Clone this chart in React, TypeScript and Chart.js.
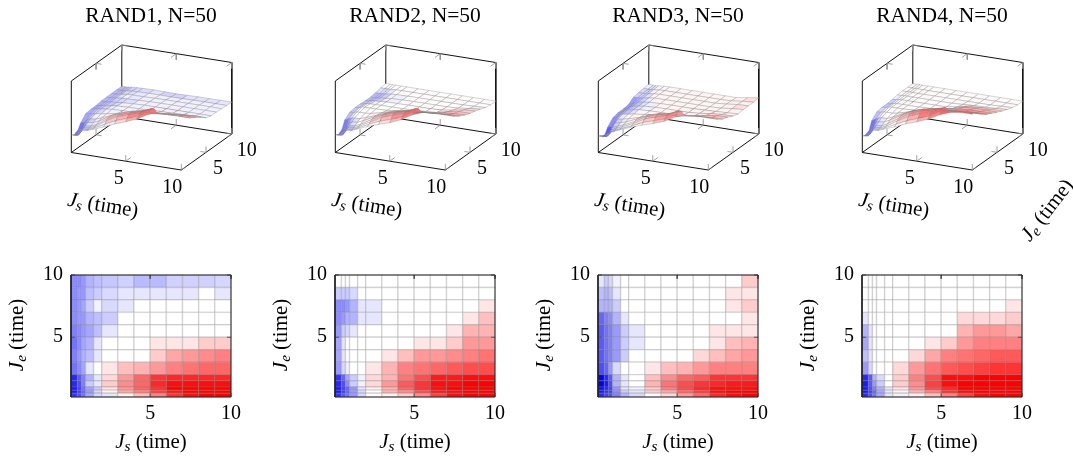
import React, { useEffect, useRef } from "react";
import { Chart, registerables } from "chart.js";

Chart.register(...registerables);

const jsLevels = [0.1, 0.5, 0.75, 1, 1.5, 2, 3, 4, 5, 6, 7, 8, 9, 10];
const jeLevels = [0.2, 0.5, 0.75, 1, 1.5, 2, 3, 4, 5, 6, 7, 8, 9, 10];
const tickValues = [5, 10];
const titles = ["RAND1, N=50", "RAND2, N=50", "RAND3, N=50", "RAND4, N=50"];

// rows run from Je 9-10 (top) to Je 0.2-0.5 (bottom); columns follow jsLevels
// values above 1 saturate the colour but still raise the 3D surface
const rand1 = [
  [-.45, -.45, -.4, -.3, -.25, -.22, -.18, -.27, -.27, -.18, -.18, -.18, -.16],
  [-.45, -.4, -.4, -.25, -.2, -.15, -.1, -.1, -.1, -.1, -.1, 0, -.1],
  [-.45, -.4, -.35, -.2, -.05, -.15, -.1, 0, 0, 0, 0, 0, 0],
  [-.45, -.4, -.4, -.3, -.25, -.2, 0, 0, 0, 0, 0, 0, 0],
  [-.5, -.45, -.4, -.35, -.25, -.1, 0, 0, 0, 0, 0, 0, 0],
  [-.55, -.45, -.35, -.3, -.1, 0, 0, 0, .1, .1, .1, .2, .2],
  [-.5, -.4, -.3, -.25, -.1, 0, 0, 0, .2, .35, .4, .45, .5],
  [-.55, -.45, -.35, -.1, 0, .1, .25, .3, .4, .5, .55, .6, .6],
  [-.85, -.65, -.5, -.3, -.1, .15, .4, .6, .8, .85, .85, .85, .85],
  [-.85, -.7, -.5, -.2, -.1, .2, .45, .6, .85, .95, .95, .95, .95],
  [-.9, -.75, -.55, -.35, -.2, .1, .4, .6, .8, 1, 1.15, 1.35, 1.5],
  [-.9, -.75, -.6, -.4, -.15, .05, .35, .5, .75, .9, 1.15, 1.35, 1.5],
  [-.8, -.7, -.55, -.35, -.15, -.1, .05, .25, .5, .8, .95, 1.3, 1.5],
];
const rand2 = [
  [0, 0, 0, 0, 0, 0, 0, 0, 0, 0, 0, 0, 0],
  [-.2, -.2, -.2, -.15, 0, 0, 0, 0, 0, 0, 0, 0, 0],
  [-.45, -.45, -.4, -.3, -.1, -.1, 0, 0, 0, 0, 0, 0, .1],
  [-.45, -.4, -.3, -.3, -.1, -.1, 0, 0, 0, 0, 0, .1, .25],
  [-.4, -.2, -.15, -.1, 0, 0, 0, 0, 0, 0, .1, .3, .3],
  [-.35, -.1, 0, 0, 0, 0, 0, 0, .1, .1, .2, .4, .4],
  [-.35, -.1, 0, 0, 0, 0, .1, .25, .4, .4, .45, .5, .55],
  [-.4, -.15, -.05, 0, 0, .1, .3, .5, .55, .6, .65, .7, .7],
  [-.8, -.6, -.35, -.2, -.05, .15, .3, .55, .7, .9, .9, .95, .95],
  [-.85, -.7, -.45, -.2, -.05, .15, .4, .65, .8, .95, .95, 1.1, 1.2],
  [-.9, -.75, -.6, -.4, -.1, .05, .3, .6, .8, .95, 1.15, 1.35, 1.5],
  [-.9, -.75, -.6, -.4, -.15, 0, .3, .45, .7, .9, .95, 1.35, 1.5],
  [-.8, -.65, -.55, -.4, -.15, 0, .05, .2, .45, .75, .95, 1.3, 1.5],
];
const rand3 = [
  [-.1, -.2, -.15, -.05, 0, 0, 0, 0, 0, 0, 0, 0, .2],
  [-.25, -.3, -.25, -.1, 0, 0, 0, 0, 0, 0, 0, .1, .1],
  [-.3, -.3, -.3, -.2, 0, 0, 0, 0, 0, 0, 0, .1, .2],
  [-.6, -.5, -.45, -.3, -.1, 0, 0, 0, 0, 0, 0, 0, .1],
  [-.65, -.55, -.5, -.4, -.2, -.1, 0, 0, 0, 0, .1, .1, .1],
  [-.65, -.55, -.5, -.4, -.2, -.1, 0, 0, 0, 0, .1, .25, .3],
  [-.65, -.55, -.5, -.4, -.2, 0, 0, 0, 0, .15, .25, .35, .4],
  [-.7, -.6, -.4, -.15, 0, 0, .1, .25, .3, .4, .5, .5, .5],
  [-1, -.85, -.65, -.3, -.1, 0, .25, .45, .6, .65, .8, .8, .8],
  [-1, -.9, -.7, -.3, -.1, 0, .3, .55, .7, .8, .85, .9, .9],
  [-.95, -.85, -.75, -.4, -.1, -.05, .2, .5, .7, .85, .95, .95, .95],
  [-.9, -.8, -.75, -.45, -.2, -.1, .2, .35, .6, .75, .95, 1.1, 1.2],
  [-.85, -.75, -.7, -.5, -.3, -.15, 0, .15, .4, .6, .85, .95, 1.2],
];
const rand4 = [
  [0, 0, 0, 0, 0, 0, 0, 0, 0, 0, 0, 0, 0],
  [0, 0, 0, 0, 0, 0, 0, 0, 0, 0, 0, 0, 0],
  [0, 0, 0, 0, 0, 0, 0, 0, 0, 0, 0, 0, .1],
  [-.1, 0, 0, 0, 0, 0, 0, 0, 0, .15, .15, .15, .2],
  [-.3, -.1, 0, 0, 0, 0, 0, 0, 0, .3, .4, .4, .35],
  [-.35, -.1, 0, 0, 0, 0, 0, .1, .2, .4, .5, .5, .5],
  [-.25, -.1, 0, 0, 0, 0, .15, .35, .5, .55, .6, .65, .65],
  [-.4, -.15, 0, 0, 0, .15, .4, .55, .65, .7, .75, .8, .8],
  [-.85, -.65, -.3, -.15, 0, .2, .5, .7, .95, .95, 1.05, 1.05, 1.1],
  [-.9, -.65, -.4, -.2, 0, .2, .45, .75, .95, 1, 1.1, 1.2, 1.3],
  [-.9, -.7, -.5, -.3, -.1, .1, .4, .7, .85, 1, 1.15, 1.35, 1.5],
  [-.9, -.75, -.6, -.35, -.1, .05, .3, .5, .8, .95, 1.15, 1.35, 1.5],
  [-.85, -.7, -.55, -.35, -.1, -.05, .05, .25, .5, .75, .95, 1.3, 1.5],
];
const matrices = [rand1, rand2, rand3, rand4];
// faint residual shade of the near-zero cells, visible only on the 3D surfaces
const surfaceTint = [-.09, .02, .07, .03];
// extra rise of the front-right fold of the surface, by Je row and by Js column
const foldRows = [.08, .1, .12, .12, .08];
const foldCols = [.4, .7, 1, 1];
// dip of the front-left corner of the surface, by Je row and by Js column
const dipRows = [.1, .1, .09, .08, .06, .04, .02];
const dipCols = [.5, .7, .8, .9, 1, .8, .3];

const FONT = '"Liberation Serif"';
const columnLeft = [1, 265, 528, 792];

function color(v: number, mixWhite = 0) {
  const p = 1 - Math.min(1, Math.abs(v));
  const c = Math.round(255 * (p + (1 - p) * mixWhite));
  return v >= 0 ? `rgb(255,${c},${c})` : `rgb(${c},${c},255)`;
}

// share of the z axis used by a value
function height(v: number) {
  if (v >= 0) return 0.46 + 0.24 * v;
  if (v > -0.5) return 0.46 + 0.08 * v;
  return 0.42 + 0.4 * (v + 0.5);
}

type Part = { t: string; style?: string; scale?: number; dy?: number };
type Label = { x: number; y: number; rot?: number; parts: Part[] };

const textPlugin = (labels: Label[], size: number) => ({
  id: "mathText",
  afterDraw(chart: any) {
    const ctx = chart.ctx;
    for (const l of labels) {
      ctx.save();
      ctx.translate(l.x, l.y);
      ctx.rotate(((l.rot || 0) * Math.PI) / 180);
      ctx.fillStyle = "#000";
      ctx.textBaseline = "alphabetic";
      let w = 0;
      const font = (p: Part) => `${p.style || ""} ${size * (p.scale || 1)}px ${FONT}`;
      for (const p of l.parts) {
        ctx.font = font(p);
        w += ctx.measureText(p.t).width;
      }
      let x = -w / 2;
      for (const p of l.parts) {
        ctx.font = font(p);
        ctx.fillText(p.t, x, size * 0.32 + (p.dy || 0));
        x += ctx.measureText(p.t).width;
      }
      ctx.restore();
    }
  },
});

const mathLabel = (sub: string): Part[] => [
  { t: "J", style: "italic", scale: 1.1 },
  { t: sub, style: "italic", scale: 0.8, dy: 3 },
  { t: " (time)", scale: 1.1 },
];

function poly(points: { x: number; y: number }[], fill: string | null, stroke: string, width: number) {
  return {
    data: points,
    showLine: true,
    pointRadius: 0,
    borderColor: stroke,
    borderWidth: width,
    backgroundColor: fill || "transparent",
    fill: fill ? "shape" : false,
    tension: 0,
    clip: false,
    borderJoinStyle: "miter",
  };
}

function Heat({ index }: { index: number }) {
  const ref = useRef<HTMLCanvasElement>(null);
  useEffect(() => {
    const m = matrices[index];
    const ds: any[] = [];
    const xMin = jsLevels[0];
    const yMin = jeLevels[0];
    const add = (d: any) => ds.push(d);
    m.forEach((row, r) => {
      const j = 12 - r;
      row.forEach((v, i) => {
        const x0 = jsLevels[i], x1 = jsLevels[i + 1], y0 = jeLevels[j], y1 = jeLevels[j + 1];
        add(poly([{ x: x0, y: y0 }, { x: x1, y: y0 }, { x: x1, y: y1 }, { x: x0, y: y1 }, { x: x0, y: y0 }],
          color(v), "rgba(120,120,120,0.24)", 1.4));
      });
    });
    for (const t of tickValues) {
      add(poly([{ x: t, y: yMin }, { x: t, y: yMin + 0.3 }], null, "#555", 1));
      add(poly([{ x: t, y: 10 }, { x: t, y: 9.7 }], null, "#555", 1));
      add(poly([{ x: xMin, y: t }, { x: xMin + 0.25, y: t }], null, "#555", 1));
      add(poly([{ x: 10, y: t }, { x: 9.75, y: t }], null, "#555", 1));
    }
    add(poly([{ x: xMin, y: yMin }, { x: 10, y: yMin }, { x: 10, y: 10 }, { x: xMin, y: 10 }, { x: xMin, y: yMin }], null, "#222", 1));
    ds.reverse();
    const ticks = (s: any) => { s.ticks = tickValues.map((value) => ({ value })); };
    const tickFont = { family: FONT, size: 20 };
    const chart = new Chart(ref.current!, {
      type: "scatter",
      data: { datasets: ds },
      options: {
        responsive: false,
        animation: false,
        events: [],
        layout: { padding: { left: 0, right: 14, top: 12, bottom: 0 } },
        plugins: { legend: { display: false }, tooltip: { enabled: false } },
        scales: {
          x: {
            type: "linear", min: xMin, max: 10,
            afterBuildTicks: ticks,
            afterFit: (s: any) => { s.height = 59; },
            grid: { display: false, drawTicks: false }, border: { display: false },
            ticks: { color: "#000", font: tickFont, padding: 5, maxRotation: 0, autoSkip: false, callback: (v: any) => String(v) },
          },
          y: {
            type: "linear", min: yMin, max: 10,
            afterBuildTicks: ticks,
            afterFit: (s: any) => { s.width = 70; },
            grid: { display: false, drawTicks: false }, border: { display: false },
            ticks: { color: "#000", font: tickFont, padding: 8, autoSkip: false, callback: (v: any) => String(v) },
          },
        },
      },
      plugins: [textPlugin([
        { x: 150, y: 187, parts: mathLabel("s") },
        { x: 16, y: 80, rot: -90, parts: mathLabel("e") },
      ], 19)],
    } as any);
    return () => chart.destroy();
  }, [index]);
  return (
    <canvas ref={ref} width={245} height={201}
      style={{ position: "absolute", left: columnLeft[index], top: 255, display: "block" }} />
  );
}

function Surface({ index }: { index: number }) {
  const ref = useRef<HTMLCanvasElement>(null);
  useEffect(() => {
    const W = 300, H = 250;
    const titleSize = 21.5, titlePad = 3;
    const head = titlePad + titleSize * 1.2;
    const xMin = jsLevels[0], yMin = jeLevels[0];
    const m = matrices[index];
    const project = (x: number, y: number, c: number) => {
      const a = (x - xMin) / (10 - xMin), b = (y - yMin) / (10 - yMin);
      return { x: 70.3 + 110 * a + 50.5 * b, y: 152.5 + 17.5 * a - 36 * b - 71.5 * c };
    };
    const ds: any[] = [];
    const line = (pts: number[][], col: string, w: number) =>
      ds.push(poly(pts.map((p) => project(p[0], p[1], p[2])), null, col, w));
    // box; the third coordinate is the share of the z axis
    const K = "#111";
    line([[xMin, yMin, 0], [10, yMin, 0], [10, 10, 0], [xMin, 10, 0], [xMin, yMin, 0]], K, 1);
    line([[xMin, yMin, 0], [xMin, yMin, 1], [xMin, 10, 1], [10, 10, 1], [10, 10, 0]], K, 1);
    line([[xMin, 10, 0], [xMin, 10, 1]], K, 1);
    const G = "#8a8a8a";
    const dx = 0.5, dy = 1, dz = 0.085;
    for (const t of tickValues) {
      line([[t, yMin, 0], [t, yMin + dy, 0]], G, 0.8);
      line([[t, yMin, 0], [t, yMin, dz]], G, 0.8);
      line([[t, 10, 0], [t, 10 - dy, 0]], G, 0.8);
      line([[t, 10, 0], [t, 10, dz]], G, 0.8);
      line([[t, 10, 1], [t, 10 - dy, 1]], G, 0.8);
      line([[t, 10, 1], [t, 10, 1 - dz]], G, 0.8);
      line([[xMin, t, 1], [xMin + dx, t, 1]], G, 0.8);
      line([[xMin, t, 1], [xMin, t, 1 - dz]], G, 0.8);
      line([[xMin, t, 0], [xMin + dx, t, 0]], G, 0.8);
      line([[xMin, t, 0], [xMin, t, dz]], G, 0.8);
      line([[10, t, 0], [10 - dx, t, 0]], G, 0.8);
      line([[10, t, 0], [10, t, dz]], G, 0.8);
    }
    // surface: vertex height from the mean of the surrounding cells
    const cell = (i: number, j: number) =>
      m[12 - Math.max(0, Math.min(j, 12))][Math.max(0, Math.min(i, 12))];
    const vertexHeight = (i: number, j: number) => {
      const mean = (cell(i, j) + cell(i - 1, j) + cell(i, j - 1) + cell(i - 1, j - 1)) / 4;
      const rise = j < foldRows.length && i >= 10 ? foldRows[j] * foldCols[i - 10] : 0;
      const dip = j < dipRows.length && i < dipCols.length ? dipRows[j] * dipCols[i] : 0;
      return height(Math.min(mean, 1)) + rise - dip;
    };
    const face = (i: number, j: number) => {
      const p = [[i, j], [i + 1, j], [i + 1, j + 1], [i, j + 1], [i, j]].map(([a, b]) =>
        project(jsLevels[a], jeLevels[b], vertexHeight(a, b)));
      const v = m[12 - j][i];
      const shade = Math.abs(v) < 0.06 ? surfaceTint[index] : v;
      ds.push(poly(p, color(shade, 0.36), "rgba(125,125,125,0.36)", 0.9));
    };
    // the fold goes first so that the rows behind it cover it; then back to front
    for (let j = 0; j < foldRows.length; j++) for (let i = 10; i < 13; i++) face(i, j);
    for (let j = 12; j >= 0; j--) {
      for (let i = 0; i < 13; i++) {
        if (j < foldRows.length && i >= 10) continue;
        face(i, j);
      }
    }
    ds.reverse();
    const a = (v: number, ox: number, oy: number): Label => {
      const p = project(v, yMin, 0);
      return { x: p.x + ox, y: p.y + oy, parts: [{ t: String(v) }] };
    };
    const b = (v: number, ox: number, oy: number): Label => {
      const p = project(10, v, 0);
      return { x: p.x + ox, y: p.y + oy, parts: [{ t: String(v) }] };
    };
    const labels: Label[] = [
      a(tickValues[0], -7, 16), a(tickValues[1], -9, 17),
      b(tickValues[0], 12, 15), b(tickValues[1], 15, 16),
      { x: 102, y: 205, rot: 9.5, parts: mathLabel("s").map((p) => ({ ...p, scale: p.scale! * 0.95 })) },
    ];
    if (index === 3) labels.push({ x: 255, y: 210, rot: -52, parts: mathLabel("e").map((p) => ({ ...p, scale: p.scale! * 0.95 })) });
    const chart = new Chart(ref.current!, {
      type: "scatter",
      data: { datasets: ds },
      options: {
        responsive: false,
        animation: false,
        events: [],
        layout: { padding: 0 },
        plugins: {
          legend: { display: false },
          tooltip: { enabled: false },
          title: {
            display: true, text: titles[index], color: "#000",
            font: { family: FONT, size: titleSize, weight: "normal", lineHeight: 1.2 },
            padding: { top: titlePad, bottom: 0 },
          },
        },
        scales: {
          x: { type: "linear", display: false, min: 0, max: W },
          y: { type: "linear", display: false, min: head, max: H, reverse: true },
        },
      },
      plugins: [textPlugin(labels, 20)],
    } as any);
    return () => chart.destroy();
  }, [index]);
  return (
    <canvas ref={ref} width={300} height={250}
      style={{ position: "absolute", left: columnLeft[index], top: 0, display: "block" }} />
  );
}

export default function App() {
  return (
    <div style={{ position: "absolute", left: 0, top: 0, width: 1073, height: 456, overflow: "hidden", background: "#fff" }}>
      {matrices.map((_, i) => <Surface key={"s" + i} index={i} />)}
      {matrices.map((_, i) => <Heat key={"h" + i} index={i} />)}
    </div>
  );
}
